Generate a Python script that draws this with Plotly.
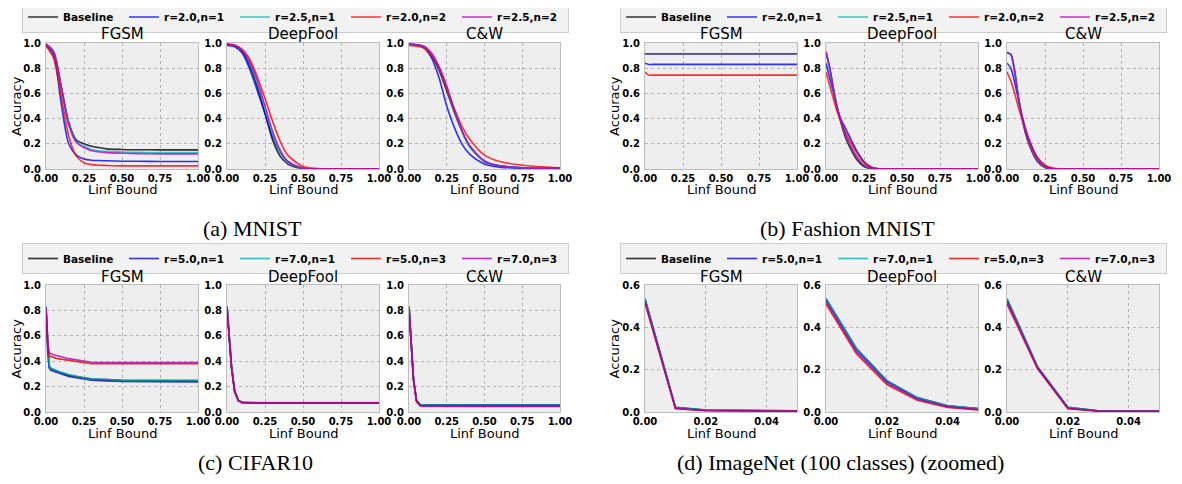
import plotly.graph_objects as go

# ---------------- data ----------------
SERIES_TOP = ["Baseline", "r=2.0,n=1", "r=2.5,n=1", "r=2.0,n=2", "r=2.5,n=2"]
SERIES_BOTTOM = ["Baseline", "r=5.0,n=1", "r=7.0,n=1", "r=5.0,n=3", "r=7.0,n=3"]
ATTACKS = ["FGSM", "DeepFool", "C&W"]
CAPTIONS = ["(a) MNIST", "(b) Fashion MNIST", "(c) CIFAR10", "(d) ImageNet (100 classes) (zoomed)"]

MNIST_X = [0, 0.05, 0.1, 0.15, 0.2, 0.25, 0.3, 0.35, 0.4, 0.5, 0.6, 0.75, 1.0]
MNIST_FGSM = {
    "Baseline":  [0.99, 0.93, 0.66, 0.37, 0.23, 0.2, 0.18, 0.17, 0.16, 0.155, 0.153, 0.152, 0.152],
    "r=2.0,n=1": [0.98, 0.9, 0.52, 0.2, 0.11, 0.08, 0.07, 0.067, 0.065, 0.062, 0.061, 0.06, 0.06],
    "r=2.5,n=1": [0.99, 0.93, 0.65, 0.36, 0.22, 0.18, 0.155, 0.145, 0.14, 0.135, 0.132, 0.13, 0.13],
    "r=2.0,n=2": [0.98, 0.88, 0.58, 0.26, 0.1, 0.05, 0.035, 0.03, 0.028, 0.025, 0.025, 0.025, 0.025],
    "r=2.5,n=2": [0.99, 0.93, 0.65, 0.35, 0.21, 0.17, 0.145, 0.135, 0.13, 0.125, 0.122, 0.12, 0.12],
}
MNIST_DEEPFOOL = {
    "Baseline":  [0.99, 0.98, 0.93, 0.82, 0.65, 0.44, 0.23, 0.1, 0.04, 0.003, 0, 0, 0],
    "r=2.0,n=1": [0.98, 0.97, 0.92, 0.79, 0.62, 0.44, 0.26, 0.13, 0.06, 0.006, 0.001, 0, 0],
    "r=2.5,n=1": [0.99, 0.98, 0.94, 0.84, 0.68, 0.48, 0.28, 0.13, 0.05, 0.005, 0, 0, 0],
    "r=2.0,n=2": [0.99, 0.985, 0.95, 0.87, 0.73, 0.56, 0.38, 0.22, 0.11, 0.02, 0.004, 0, 0],
    "r=2.5,n=2": [0.99, 0.98, 0.94, 0.85, 0.7, 0.5, 0.3, 0.15, 0.06, 0.006, 0, 0, 0],
}
MNIST_CW = {
    "Baseline":  [0.99, 0.985, 0.97, 0.9, 0.78, 0.62, 0.45, 0.3, 0.18, 0.06, 0.025, 0.01, 0.005],
    "r=2.0,n=1": [0.99, 0.985, 0.96, 0.88, 0.72, 0.5, 0.33, 0.2, 0.12, 0.04, 0.015, 0.006, 0.003],
    "r=2.5,n=1": [0.99, 0.985, 0.97, 0.91, 0.8, 0.64, 0.46, 0.3, 0.18, 0.06, 0.025, 0.01, 0.005],
    "r=2.0,n=2": [0.98, 0.975, 0.96, 0.9, 0.8, 0.64, 0.48, 0.34, 0.24, 0.11, 0.06, 0.03, 0.01],
    "r=2.5,n=2": [0.99, 0.985, 0.975, 0.92, 0.81, 0.66, 0.47, 0.31, 0.19, 0.065, 0.025, 0.01, 0.005],
}

FASHION_X = [0, 0.025, 0.05, 0.075, 0.1, 0.125, 0.15, 0.2, 0.25, 0.3, 0.35, 0.4, 0.5, 0.75, 1.0]
FASHION_FGSM = {
    "Baseline":  [0.915, 0.915, 0.915, 0.915, 0.915, 0.915, 0.915, 0.915, 0.915, 0.915, 0.915, 0.915, 0.915, 0.915, 0.915],
    "r=2.0,n=1": [0.84, 0.83, 0.83, 0.83, 0.83, 0.83, 0.83, 0.83, 0.83, 0.83, 0.83, 0.83, 0.83, 0.83, 0.83],
    "r=2.5,n=1": [0.913, 0.913, 0.913, 0.913, 0.913, 0.913, 0.913, 0.913, 0.913, 0.913, 0.913, 0.913, 0.913, 0.913, 0.913],
    "r=2.0,n=2": [0.77, 0.745, 0.745, 0.745, 0.745, 0.745, 0.745, 0.745, 0.745, 0.745, 0.745, 0.745, 0.745, 0.745, 0.745],
    "r=2.5,n=2": [0.915, 0.915, 0.915, 0.915, 0.915, 0.915, 0.915, 0.915, 0.915, 0.915, 0.915, 0.915, 0.915, 0.915, 0.915],
}
FASHION_DEEPFOOL = {
    "Baseline":  [0.93, 0.8, 0.63, 0.48, 0.36, 0.26, 0.19, 0.08, 0.02, 0.003, 0, 0, 0, 0, 0],
    "r=2.0,n=1": [0.84, 0.72, 0.6, 0.48, 0.39, 0.33, 0.27, 0.15, 0.06, 0.015, 0.002, 0, 0, 0, 0],
    "r=2.5,n=1": [0.92, 0.79, 0.62, 0.48, 0.37, 0.28, 0.21, 0.1, 0.03, 0.005, 0.001, 0, 0, 0, 0],
    "r=2.0,n=2": [0.77, 0.66, 0.55, 0.45, 0.37, 0.3, 0.24, 0.13, 0.05, 0.012, 0.002, 0, 0, 0, 0],
    "r=2.5,n=2": [0.93, 0.8, 0.63, 0.48, 0.37, 0.28, 0.21, 0.1, 0.03, 0.005, 0.001, 0, 0, 0, 0],
}
FASHION_CW = {
    "Baseline":  [0.925, 0.91, 0.78, 0.57, 0.4, 0.27, 0.18, 0.06, 0.012, 0.002, 0, 0, 0, 0, 0],
    "r=2.0,n=1": [0.84, 0.8, 0.69, 0.55, 0.42, 0.31, 0.22, 0.09, 0.025, 0.005, 0, 0, 0, 0, 0],
    "r=2.5,n=1": [0.92, 0.905, 0.77, 0.57, 0.4, 0.28, 0.19, 0.065, 0.015, 0.003, 0, 0, 0, 0, 0],
    "r=2.0,n=2": [0.77, 0.7, 0.6, 0.49, 0.39, 0.29, 0.21, 0.09, 0.03, 0.006, 0, 0, 0, 0, 0],
    "r=2.5,n=2": [0.925, 0.91, 0.78, 0.57, 0.41, 0.28, 0.19, 0.07, 0.016, 0.003, 0, 0, 0, 0, 0],
}

CIFAR_X = [0, 0.01, 0.02, 0.03, 0.05, 0.075, 0.1, 0.15, 0.2, 0.25, 0.3, 0.4, 0.5, 0.75, 1.0]
CIFAR_FGSM = {
    "Baseline":  [0.83, 0.55, 0.37, 0.345, 0.335, 0.32, 0.31, 0.29, 0.28, 0.27, 0.26, 0.255, 0.25, 0.248, 0.247],
    "r=5.0,n=1": [0.82, 0.5, 0.35, 0.33, 0.32, 0.31, 0.3, 0.28, 0.27, 0.26, 0.25, 0.245, 0.24, 0.238, 0.237],
    "r=7.0,n=1": [0.83, 0.55, 0.37, 0.345, 0.335, 0.322, 0.312, 0.295, 0.28, 0.27, 0.262, 0.255, 0.25, 0.249, 0.248],
    "r=5.0,n=3": [0.8, 0.55, 0.44, 0.435, 0.43, 0.42, 0.415, 0.405, 0.395, 0.385, 0.38, 0.38, 0.38, 0.38, 0.38],
    "r=7.0,n=3": [0.82, 0.58, 0.47, 0.46, 0.45, 0.44, 0.435, 0.42, 0.41, 0.4, 0.392, 0.39, 0.39, 0.39, 0.39],
}
CIFAR_DEEPFOOL = {
    "Baseline":  [0.83, 0.65, 0.5, 0.36, 0.17, 0.09, 0.075, 0.072, 0.072, 0.072, 0.072, 0.072, 0.072, 0.072, 0.072],
    "r=5.0,n=1": [0.82, 0.64, 0.49, 0.35, 0.16, 0.09, 0.076, 0.073, 0.073, 0.073, 0.073, 0.073, 0.073, 0.073, 0.073],
    "r=7.0,n=1": [0.83, 0.65, 0.5, 0.36, 0.17, 0.091, 0.077, 0.074, 0.074, 0.074, 0.074, 0.074, 0.074, 0.074, 0.074],
    "r=5.0,n=3": [0.81, 0.63, 0.48, 0.34, 0.16, 0.088, 0.073, 0.071, 0.071, 0.071, 0.071, 0.071, 0.071, 0.071, 0.071],
    "r=7.0,n=3": [0.83, 0.64, 0.49, 0.35, 0.165, 0.089, 0.074, 0.072, 0.072, 0.072, 0.072, 0.072, 0.072, 0.072, 0.072],
}
CIFAR_CW = {
    "Baseline":  [0.83, 0.63, 0.44, 0.26, 0.09, 0.058, 0.056, 0.055, 0.055, 0.055, 0.055, 0.055, 0.055, 0.055, 0.055],
    "r=5.0,n=1": [0.82, 0.62, 0.43, 0.25, 0.088, 0.057, 0.055, 0.054, 0.054, 0.054, 0.054, 0.054, 0.054, 0.054, 0.054],
    "r=7.0,n=1": [0.83, 0.63, 0.44, 0.26, 0.09, 0.058, 0.056, 0.055, 0.055, 0.055, 0.055, 0.055, 0.055, 0.055, 0.055],
    "r=5.0,n=3": [0.81, 0.61, 0.42, 0.24, 0.08, 0.048, 0.045, 0.044, 0.044, 0.044, 0.044, 0.044, 0.044, 0.044, 0.044],
    "r=7.0,n=3": [0.82, 0.62, 0.43, 0.25, 0.083, 0.05, 0.047, 0.046, 0.046, 0.046, 0.046, 0.046, 0.046, 0.046, 0.046],
}

IMAGENET_X = [0, 0.01, 0.02, 0.03, 0.04, 0.05]
IMAGENET_FGSM = {
    "Baseline":  [0.535, 0.022, 0.009, 0.007, 0.006, 0.006],
    "r=5.0,n=1": [0.53, 0.02, 0.008, 0.006, 0.005, 0.005],
    "r=7.0,n=1": [0.535, 0.022, 0.009, 0.007, 0.006, 0.006],
    "r=5.0,n=3": [0.515, 0.015, 0.006, 0.004, 0.004, 0.004],
    "r=7.0,n=3": [0.52, 0.018, 0.007, 0.005, 0.005, 0.005],
}
IMAGENET_DEEPFOOL = {
    "Baseline":  [0.535, 0.3, 0.148, 0.068, 0.029, 0.016],
    "r=5.0,n=1": [0.53, 0.295, 0.145, 0.065, 0.028, 0.015],
    "r=7.0,n=1": [0.535, 0.3, 0.148, 0.068, 0.029, 0.016],
    "r=5.0,n=3": [0.51, 0.275, 0.13, 0.055, 0.022, 0.01],
    "r=7.0,n=3": [0.52, 0.285, 0.138, 0.06, 0.025, 0.012],
}
IMAGENET_CW = {
    "Baseline":  [0.535, 0.215, 0.022, 0.006, 0.004, 0.004],
    "r=5.0,n=1": [0.53, 0.21, 0.02, 0.005, 0.004, 0.003],
    "r=7.0,n=1": [0.535, 0.215, 0.022, 0.006, 0.004, 0.004],
    "r=5.0,n=3": [0.51, 0.205, 0.015, 0.004, 0.003, 0.003],
    "r=7.0,n=3": [0.52, 0.21, 0.018, 0.005, 0.003, 0.003],
}

COLORS_TOP = ["#000000", "#0000ff", "#00bfbf", "#ff0000", "#bf00bf"]
COLORS_BOTTOM = ["#000000", "#0000cc", "#00b0b0", "#e00000", "#b000b0"]

# ---------------- layout helpers ----------------
W, H = 1182, 484
PAGE_OFFSET = 8  # default body margin of the html page


def fx(p):
    return (p - PAGE_OFFSET) / W


def fy(p):
    return 1 - (p - PAGE_OFFSET) / H


COLS_LEFT = [(46, 198), (227, 379), (409, 560)]
COLS_RIGHT = [(645, 797), (826, 978), (1007, 1159)]
ROW_TOP = (43, 169)
ROW_BOTTOM = (285, 412)

panels = [
    dict(x=MNIST_X, data=[MNIST_FGSM, MNIST_DEEPFOOL, MNIST_CW], series=SERIES_TOP, colors=COLORS_TOP,
         cols=COLS_LEFT, row=ROW_TOP, yr=[0, 1], yt=[0, 0.2, 0.4, 0.6, 0.8, 1.0], xr=[0, 1],
         xt=[0, 0.25, 0.5, 0.75, 1.0], shape="spline", legend="legend", leg=(22, 1.5),
         cap=(252, 228), ylab=16, title_y=34, xlab_y=190),
    dict(x=FASHION_X, data=[FASHION_FGSM, FASHION_DEEPFOOL, FASHION_CW], series=SERIES_TOP, colors=COLORS_TOP,
         cols=COLS_RIGHT, row=ROW_TOP, yr=[0, 1], yt=[0, 0.2, 0.4, 0.6, 0.8, 1.0], xr=[0, 1],
         xt=[0, 0.25, 0.5, 0.75, 1.0], shape="spline", legend="legend2", leg=(620, 1.5),
         cap=(847, 228), ylab=614, title_y=34, xlab_y=190),
    dict(x=CIFAR_X, data=[CIFAR_FGSM, CIFAR_DEEPFOOL, CIFAR_CW], series=SERIES_BOTTOM, colors=COLORS_BOTTOM,
         cols=COLS_LEFT, row=ROW_BOTTOM, yr=[0, 1], yt=[0, 0.2, 0.4, 0.6, 0.8, 1.0], xr=[0, 1],
         xt=[0, 0.25, 0.5, 0.75, 1.0], shape="linear", legend="legend3", leg=(22, 243),
         cap=(255, 462), ylab=16, title_y=277, xlab_y=433),
    dict(x=IMAGENET_X, data=[IMAGENET_FGSM, IMAGENET_DEEPFOOL, IMAGENET_CW], series=SERIES_BOTTOM, colors=COLORS_BOTTOM,
         cols=COLS_RIGHT, row=ROW_BOTTOM, yr=[0, 0.6], yt=[0, 0.2, 0.4, 0.6], xr=[0, 0.05],
         xt=[0, 0.02, 0.04], shape="linear", legend="legend4", leg=(620, 243),
         cap=(840, 462), ylab=614, title_y=277, xlab_y=433),
]

fig = go.Figure()
layout = dict(
    width=W, height=H, margin=dict(l=0, r=0, t=0, b=0, autoexpand=False),
    paper_bgcolor="white", plot_bgcolor="#eeeeee", showlegend=True,
    font=dict(family="DejaVu Sans", color="black"),
)
annotations = []
tickfont = dict(family="DejaVu Sans", size=10, color="black", weight="bold")

k = 0
for pi, p in enumerate(panels):
    for ci, attack in enumerate(ATTACKS):
        k += 1
        xa = "xaxis" if k == 1 else f"xaxis{k}"
        ya = "yaxis" if k == 1 else f"yaxis{k}"
        xref = "x" if k == 1 else f"x{k}"
        yref = "y" if k == 1 else f"y{k}"
        c0, c1 = p["cols"][ci]
        r0, r1 = p["row"]
        common = dict(showgrid=True, gridcolor="#b2b2b2", griddash="dot", gridwidth=1,
                      showline=True, linecolor="#bcbcbc", linewidth=1, mirror=True,
                      zeroline=False, ticks="", tickfont=tickfont, fixedrange=True,
                      automargin=False)
        layout[xa] = dict(domain=[fx(c0), fx(c1)], anchor=yref, range=p["xr"], tickvals=p["xt"],
                          tickformat=".2f", ticklabelstandoff=0, **common)
        layout[ya] = dict(domain=[fy(r1), fy(r0)], anchor=xref, range=p["yr"], tickvals=p["yt"],
                          tickformat=".1f", ticklabelstandoff=2, **common)
        series_data = p["data"][ci]
        for si, name in enumerate(p["series"]):
            fig.add_trace(go.Scatter(
                x=p["x"], y=series_data[name], mode="lines", name=name,
                line=dict(color=p["colors"][si], width=1.6, shape=p["shape"], smoothing=0.8),
                opacity=0.8, xaxis=xref, yaxis=yref, legend=p["legend"],
                showlegend=(ci == 0),
                legendwidth=(56 if si == 0 else 66),
            ))
        annotations.append(dict(text=attack, x=fx((c0 + c1) / 2), y=fy(p["title_y"]), xref="paper", yref="paper",
                                showarrow=False, xanchor="center", yanchor="middle",
                                font=dict(family="DejaVu Sans", size=15, color="black")))
        annotations.append(dict(text="Linf Bound", x=fx((c0 + c1) / 2), y=fy(p["xlab_y"]), xref="paper", yref="paper",
                                showarrow=False, xanchor="center", yanchor="middle",
                                font=dict(family="DejaVu Sans", size=13, color="black")))
    annotations.append(dict(text="Accuracy", x=fx(p["ylab"]), y=fy((p["row"][0] + p["row"][1]) / 2),
                            xref="paper", yref="paper", showarrow=False, textangle=-90,
                            xanchor="center", yanchor="middle",
                            font=dict(family="DejaVu Sans", size=13, color="black")))
    annotations.append(dict(text=CAPTIONS[pi], x=fx(p["cap"][0]), y=fy(p["cap"][1]), xref="paper", yref="paper",
                            showarrow=False, xanchor="center", yanchor="middle",
                            font=dict(family="Liberation Serif", size=22, color="black")))
    layout[p["legend"]] = dict(
        x=fx(p["leg"][0]), y=fy(p["leg"][1]), xanchor="left", yanchor="top",
        orientation="h", bgcolor="#f2f2f2", bordercolor="#cccccc", borderwidth=1,
        font=dict(family="DejaVu Sans", size=10.5, color="black", weight="bold"),
        itemwidth=30, tracegroupgap=0, indentation=0,
    )

layout["annotations"] = annotations
fig.update_layout(**layout)
fig.write_html("out.html")
